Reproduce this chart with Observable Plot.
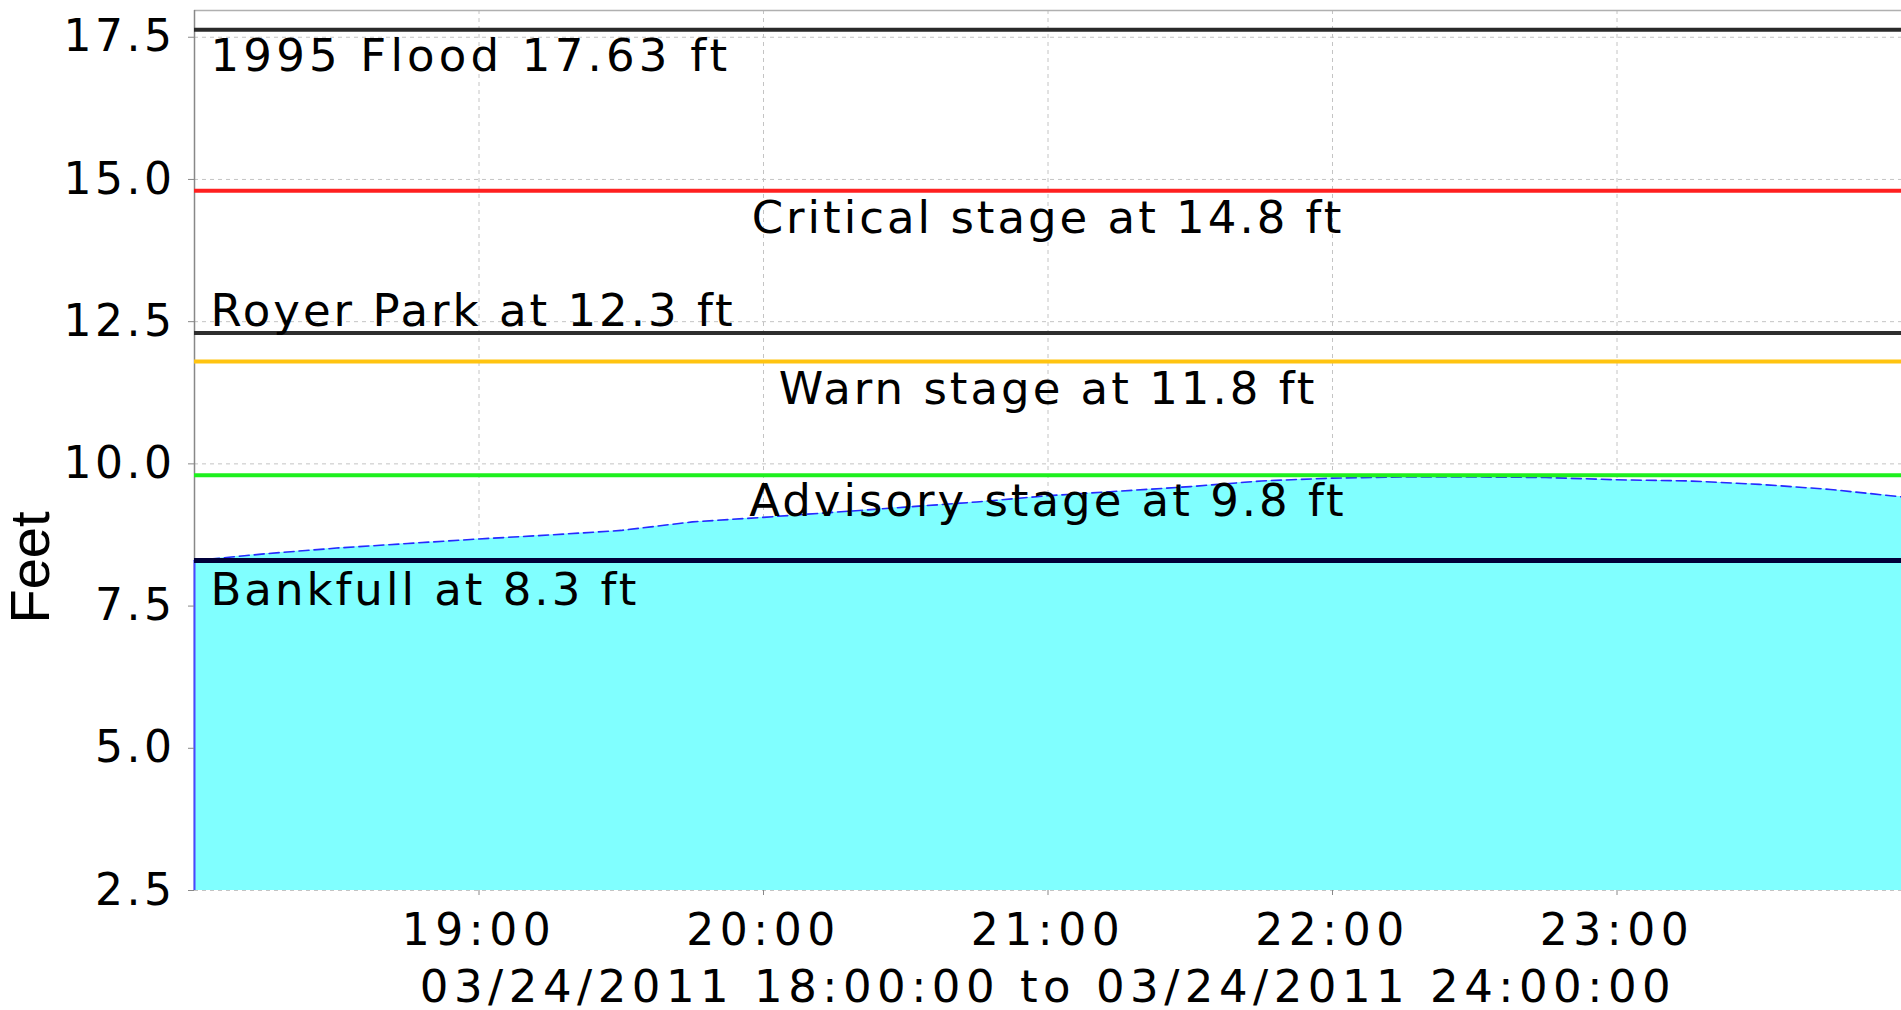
<!DOCTYPE html>
<html>
<head>
<meta charset="utf-8">
<script src="https://cdn.jsdelivr.net/npm/d3@7"></script>
<script src="https://cdn.jsdelivr.net/npm/@observablehq/plot@0.6"></script>
<style>
  html, body { margin: 0; padding: 0; background: #fff; overflow: hidden; }
</style>
</head>
<body>
<div id="chart"></div>
<script>
// ---- data ----
const times = ["18:00","18:15","18:30","18:45","19:00","19:15","19:30","19:45","20:00","20:15","20:30","20:45",
               "21:00","21:15","21:30","21:45","22:00","22:15","22:30","22:45","23:00","23:15","23:30","23:45","24:00"];
const stageFeet = [8.30, 8.42, 8.52, 8.60, 8.68, 8.75, 8.83, 8.98, 9.06, 9.15, 9.24, 9.33,
                   9.44, 9.52, 9.60, 9.70, 9.75, 9.77, 9.77, 9.76, 9.72, 9.70, 9.64, 9.55, 9.42];
const levelNames = ["1995 Flood 17.63 ft", "Critical stage at 14.8 ft", "Royer Park at 12.3 ft",
                    "Warn stage at 11.8 ft", "Advisory stage at 9.8 ft", "Bankfull at 8.3 ft"];
const levelFeet = [17.63, 14.8, 12.3, 11.8, 9.8, 8.3];
const yTicks = [2.5, 5.0, 7.5, 10.0, 12.5, 15.0, 17.5];
const xTickLabels = ["19:00", "20:00", "21:00", "22:00", "23:00"];
const xStart = "18:00", xEnd = "24:00";
const xTitle = "03/24/2011 18:00:00 to 03/24/2011 24:00:00";
const yTitle = "Feet";

// ---- helpers ----
const toDate = s => { const [h, m] = s.split(":").map(Number); return new Date(Date.UTC(2011, 2, 24, h, m)); };
const series = times.map((t, i) => ({t: toDate(t), v: stageFeet[i]}));
const t0 = toDate(xStart), t1 = toDate(xEnd);
const tMid = new Date((+t0 + +t1) / 2);
const yMin = yTicks[0], yMax = 17.97;
const xTicks = xTickLabels.map(toDate);

// styles per level (by index)
const levelStyle = [
  {stroke: "#2a2a2a", width: 4, anchor: "left",   side: "below", dy: 9,  ls: 4.2},
  {stroke: "#ff2020", width: 4, anchor: "center", side: "below", dy: 10, ls: 3},
  {stroke: "#2e2e2e", width: 4, anchor: "left",   side: "above", dy: -7, ls: 3},
  {stroke: "#ffc410", width: 4, anchor: "center", side: "below", dy: 11, ls: 3},
  {stroke: "#1ef01e", width: 4, anchor: "center", side: "below", dy: 9,  ls: 3},
  {stroke: "#00003a", width: 5, anchor: "left",   side: "below", dy: 12, ls: 3}
];
const levels = levelNames.map((name, i) => ({name, v: levelFeet[i], ...levelStyle[i]}));

const labelFont = 45;

const marks = [
  Plot.gridY(yTicks, {stroke: "#c4c4c4", strokeOpacity: 1, strokeDasharray: "4,4"}),
  Plot.gridX(xTicks, {stroke: "#c4c4c4", strokeOpacity: 1, strokeDasharray: "4,4"}),
  Plot.ruleY([yMax], {stroke: "#b0b0b0", strokeWidth: 1.5}),
  Plot.ruleX([t0], {stroke: "#888", strokeWidth: 1.5}),
  Plot.area(series, {x1: "t", y1: yMin, y2: "v", fill: "#80ffff", curve: "linear"}),
  Plot.line(series, {x: "t", y: "v", stroke: "#2828ff", strokeWidth: 1.6, strokeDasharray: "10,5"}),
  Plot.ruleX([series[0]], {x: "t", y1: yMin, y2: "v", stroke: "#4848ff", strokeWidth: 2}),
  Plot.ruleY(levels, {y: "v", stroke: d => d.stroke, strokeWidth: d => d.width}),
];

for (const d of levels) {
  marks.push(Plot.text([d], {
    x: d.anchor === "left" ? () => t0 : () => tMid,
    y: "v",
    text: "name",
    textAnchor: d.anchor === "left" ? "start" : "middle",
    lineAnchor: d.side === "below" ? "top" : "bottom",
    dx: d.anchor === "left" ? 16 : 0,
    dy: d.dy,
    fontSize: labelFont,
    fill: "#000"
  }));
}

marks.push(
  Plot.axisY({ticks: yTicks, tickFormat: d3.format(".1f"), tickSize: 6, tickPadding: 13,
              fontSize: 44, stroke: "#888", fill: "#000", label: null}),
  Plot.axisX({ticks: xTicks, tickFormat: d3.utcFormat("%H:%M"), tickSize: 5, tickPadding: 18,
              fontSize: 44, stroke: "#888", fill: "#000", label: null}),
  Plot.text([xTitle], {frameAnchor: "bottom", dy: 97, fontSize: 45, lineAnchor: "middle", fill: "#000"}),
  Plot.text([yTitle], {frameAnchor: "left", rotate: -90, dx: -163, dy: 173, fontSize: 56,
                       fontFamily: "Liberation Sans", lineAnchor: "middle", fill: "#000"})
);

const chart = Plot.plot({
  width: 1901,
  height: 1010,
  marginLeft: 194,
  marginRight: 0,
  marginTop: 10,
  marginBottom: 120,
  style: {fontFamily: "DejaVu Sans", letterSpacing: "3.5px", background: "#fff", overflow: "visible"},
  x: {type: "utc", domain: [t0, t1]},
  y: {domain: [yMin, yMax]},
  marks
});

document.getElementById("chart").appendChild(chart);
const xTickSet = new Set(xTickLabels);
for (const el of chart.querySelectorAll("text")) {
  const s = el.textContent;
  if (s === yTitle) el.style.letterSpacing = "0px";
  else if (s === xTitle || xTickSet.has(s)) el.style.letterSpacing = "5.5px";
  else {
    const lv = levels.find(l => l.name === s);
    if (lv) el.style.letterSpacing = lv.ls + "px";
  }
}
</script>
</body>
</html>
